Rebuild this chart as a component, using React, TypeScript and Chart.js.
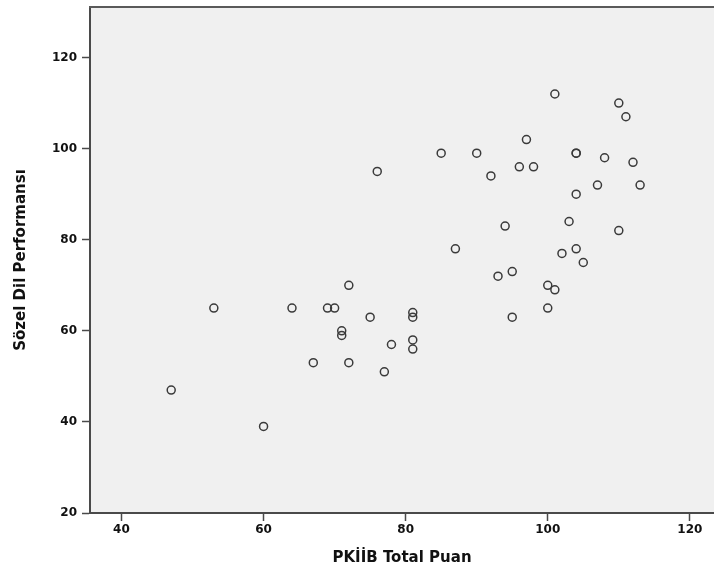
import React, { useEffect, useRef } from "react";
import { Chart, registerables } from "chart.js";

Chart.register(...registerables);

const xValues = [
  47, 53, 60, 64, 67, 69, 70, 71, 71, 72, 72, 75, 76, 77, 78, 81, 81, 81, 81,
  85, 87, 90, 92, 93, 94, 95, 95, 96, 97, 98, 100, 100, 101, 101, 102, 103,
  104, 104, 104, 104, 105, 107, 108, 110, 110, 111, 112, 113,
];
const yValues = [
  47, 65, 39, 65, 53, 65, 65, 60, 59, 70, 53, 63, 95, 51, 57, 64, 63, 58, 56,
  99, 78, 99, 94, 72, 83, 73, 63, 96, 102, 96, 70, 65, 69, 112, 77, 84,
  99, 99, 90, 78, 75, 92, 98, 110, 82, 107, 97, 92,
];
const xTicks = [40, 60, 80, 100, 120];
const yTicks = [20, 40, 60, 80, 100, 120];
const xTitle = "PKİİB Total Puan";
const yTitle = "Sözel Dil Performansı";

const FONT = "'DejaVu Sans', Verdana, sans-serif";

const framePlugin = {
  id: "frame",
  beforeDraw(chart: any) {
    const { ctx, chartArea } = chart;
    ctx.save();
    ctx.fillStyle = "#f0f0f0";
    ctx.fillRect(
      chartArea.left,
      chartArea.top,
      chartArea.right - chartArea.left,
      chartArea.bottom - chartArea.top
    );
    ctx.restore();
  },
  afterDraw(chart: any) {
    const { ctx, chartArea } = chart;
    ctx.save();
    ctx.strokeStyle = "#5a5a5a";
    ctx.lineWidth = 2;
    ctx.beginPath();
    ctx.moveTo(chartArea.left - 1, chartArea.top);
    ctx.lineTo(chartArea.right, chartArea.top);
    ctx.stroke();
    ctx.restore();
  },
};

const zeroPad = (scale: any) => {
  scale.paddingTop = 0;
  scale.paddingBottom = 0;
  scale.paddingLeft = 0;
  scale.paddingRight = 0;
};

export default function App() {
  const ref = useRef<HTMLCanvasElement>(null);

  useEffect(() => {
    if (!ref.current) return;
    const points = xValues.map((x, i) => ({ x, y: yValues[i] }));
    const chart = new Chart(ref.current, {
      type: "scatter",
      data: {
        datasets: [
          {
            data: points,
            pointStyle: "circle",
            pointRadius: 4,
            pointBorderWidth: 1.5,
            pointBorderColor: "#3a3a3a",
            pointBackgroundColor: "rgba(0,0,0,0)",
            pointHoverRadius: 4,
          },
        ],
      },
      options: {
        animation: false,
        responsive: false,
        layout: {
          autoPadding: false,
          padding: { top: 7, right: 0, left: 0, bottom: 0 },
        },
        plugins: {
          legend: { display: false },
          tooltip: { enabled: false },
        },
        scales: {
          x: {
            type: "linear",
            min: 35.57,
            max: 123.4,
            afterBuildTicks: (scale: any) => {
              scale.ticks = xTicks.map((v) => ({ value: v }));
            },
            afterFit: (scale: any) => {
              scale.height = 56;
              zeroPad(scale);
            },
            ticks: {
              includeBounds: false,
              padding: 2,
              color: "#111",
              font: { family: FONT, size: 12, weight: "bold" },
            },
            grid: {
              drawOnChartArea: false,
              drawTicks: true,
              tickLength: 8,
              tickColor: "#4a4a4a",
              tickWidth: 1.5,
            },
            border: { display: true, color: "#4a4a4a", width: 2 },
            title: {
              display: true,
              text: xTitle,
              color: "#111",
              font: { family: FONT, size: 15, weight: "bold" },
              padding: { top: 0, bottom: 2 },
            },
          },
          y: {
            type: "linear",
            min: 20,
            max: 131.1,
            afterBuildTicks: (scale: any) => {
              scale.ticks = yTicks.map((v) => ({ value: v }));
            },
            afterFit: (scale: any) => {
              scale.width = 90;
              zeroPad(scale);
            },
            ticks: {
              includeBounds: false,
              padding: 5,
              color: "#111",
              font: { family: FONT, size: 12, weight: "bold" },
            },
            grid: {
              drawOnChartArea: false,
              drawTicks: true,
              tickLength: 8,
              tickColor: "#4a4a4a",
              tickWidth: 1.5,
            },
            border: { display: true, color: "#4a4a4a", width: 2 },
            title: {
              display: true,
              text: yTitle,
              color: "#111",
              font: { family: FONT, size: 15, weight: "bold" },
              padding: { top: 12, bottom: 0 },
            },
          },
        },
      },
      plugins: [framePlugin],
    });
    return () => chart.destroy();
  }, []);

  return (
    <div
      style={{
        position: "absolute",
        left: 0,
        top: 0,
        width: 714,
        height: 569,
        background: "#fff",
      }}
    >
      <canvas ref={ref} width={714} height={569} style={{ display: "block" }} />
    </div>
  );
}
